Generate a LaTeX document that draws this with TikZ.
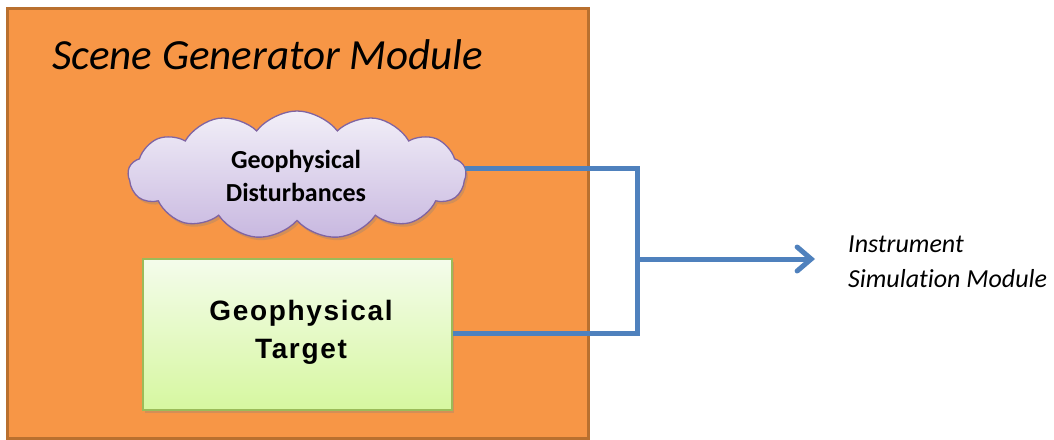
\documentclass[tikz,border=0pt]{standalone}
\usepackage{fontspec}
\setmainfont{Carlito}[Ligatures={NoCommon,NoDiscretionary}]
\newfontfamily\arialbold[LetterSpace=6]{Liberation Sans Bold}
\usetikzlibrary{shapes.symbols,shadows,arrows.meta}
\definecolor{modorange}{HTML}{F79646}
\definecolor{modorangeb}{HTML}{B9702F}
\definecolor{cloudtop}{HTML}{F2EFF8}
\definecolor{cloudbot}{HTML}{C8B8E0}
\definecolor{cloudline}{HTML}{8064A2}
\definecolor{targtop}{HTML}{F4FCEB}
\definecolor{targbot}{HTML}{D6F7A0}
\definecolor{targline}{HTML}{9BBB59}
\definecolor{conn}{HTML}{4F81BD}
\tikzset{
  modbox/.style={draw=modorangeb, line width=3pt, fill=modorange, minimum width=581pt, minimum height=430pt, inner sep=0pt},
  cloudnode/.style={cloud, cloud puffs=13, cloud puff arc=105, aspect=2.7, draw=cloudline, line width=1.3pt,
    top color=cloudtop, bottom color=cloudbot, minimum width=338pt, minimum height=128pt, inner sep=0pt,
    drop shadow={opacity=0.3, shadow xshift=2pt, shadow yshift=-3pt}},
  targetnode/.style={draw=targline, line width=1.3pt, top color=targtop, bottom color=targbot,
    minimum width=309pt, minimum height=151pt, inner sep=0pt,
    drop shadow={opacity=0.3, shadow xshift=2pt, shadow yshift=-3pt}},
  connline/.style={draw=conn, line width=5pt},
}
\begin{document}
\begin{tikzpicture}[x=1pt,y=-1pt]
\useasboundingbox (0,0) rectangle (1054,439);
\node[modbox] (mod) at (297.5,223) {};
\node[anchor=base west, inner sep=0pt, font=\fontsize{43}{48}\selectfont\itshape] (title) at (52,69) {Scene Generator Module};
\node[cloudnode] (cl) at (297,175) {};
\node[align=center, inner sep=0pt, font=\fontsize{26}{33}\selectfont\bfseries] (cltext) at (296,176) {Geophysical\\Disturbances};
\node[targetnode] (tg) at (297.5,334.5) {};
\node[align=center, inner sep=0pt, font=\fontsize{28}{38}\selectfont\arialbold] (tgtext) at (301,332) {Geophysical\\Target};
\coordinate (j1) at (637,168);
\coordinate (j2) at (637,333);
\coordinate (jm) at (637,259);
\coordinate (cle) at (465,168);
\coordinate (tip) at (815,259);
\node[anchor=west, align=left, inner sep=0pt, font=\fontsize{26}{35}\selectfont\itshape] (ism) at (848,262) {Instrument\\Simulation Module};
\draw[connline, line join=miter] (cle) -- (j1) -- (j2) -- (tg.east |- j2);
\draw[connline, -{Straight Barb[length=14pt,width=24pt,line cap=round]}] (jm) -- (tip);
\end{tikzpicture}
\end{document}
